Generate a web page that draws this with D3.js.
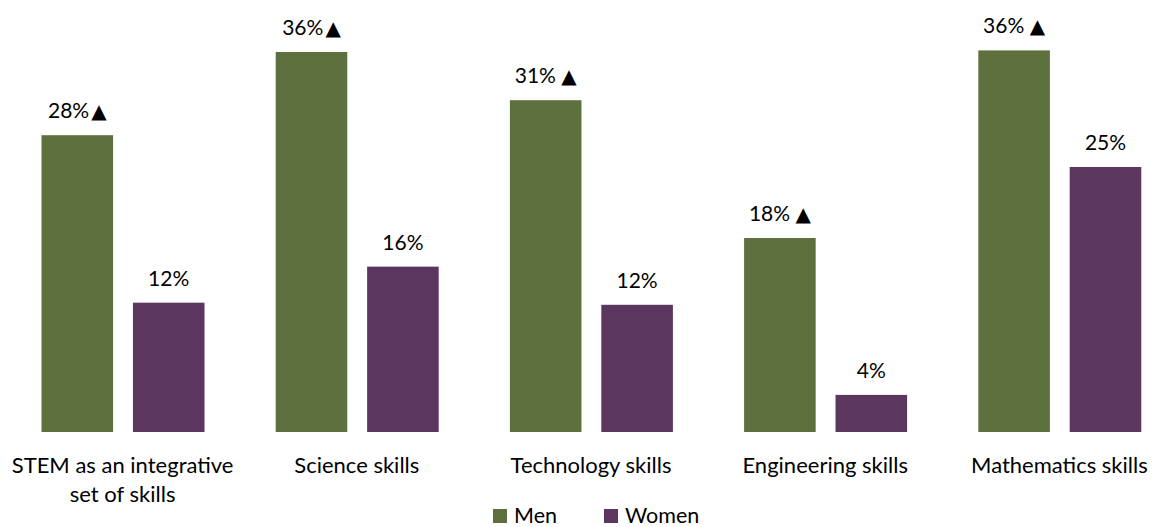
<!DOCTYPE html>
<html><head><meta charset="utf-8">
<script src="https://cdn.jsdelivr.net/npm/d3@7"></script>
<style>body{margin:0;background:#fff}svg{display:block}text{font-family:Lato,"Open Sans",sans-serif;fill:#000}</style>
</head><body><svg id="c" width="1158" height="527"></svg>
<script>
const categories = ["STEM as an integrative set of skills","Science skills","Technology skills","Engineering skills","Mathematics skills"];
const categoryLines = [["STEM as an integrative","set of skills"],["Science skills"],["Technology skills"],["Engineering skills"],["Mathematics skills"]];
const series = ["Men","Women"];
const men = [28.0, 35.85, 31.3, 18.3, 36.0];
const women = [12.2, 15.6, 12.0, 3.5, 25.0];
const menSignificant = [true, true, true, true, true];
const markerSpaced = [false, false, true, true, true];
const colors = {Men:"#5F703F", Women:"#5B365E"};

const svg = d3.select("#c");
const data = categories.map((c,i)=>({cat:c, lines:categoryLines[i], vals:[{s:"Men",v:men[i],sig:menSignificant[i],sp:markerSpaced[i]},{s:"Women",v:women[i],sig:false}]}));

const x0 = d3.scaleBand().domain(categories).range([5.5,1176.5]).padding(0);
const x1 = d3.scaleBand().domain(series).range([36,199]).paddingInner(0.217).paddingOuter(0);
const y = d3.scaleLinear().domain([0,40]).range([432,8]);

const g = svg.selectAll("g.grp").data(data).join("g").attr("class","grp")
  .attr("transform",d=>`translate(${x0(d.cat)},0)`);

g.selectAll("rect").data(d=>d.vals).join("rect")
  .attr("x",d=>x1(d.s)).attr("width",x1.bandwidth())
  .attr("y",d=>y(d.v)).attr("height",d=>y(0)-y(d.v))
  .attr("fill",d=>colors[d.s]);

g.selectAll("text.val").data(d=>d.vals).join("text").attr("class","val")
  .attr("x",d=>x1(d.s)+x1.bandwidth()/2)
  .attr("y",d=>y(d.v)-17)
  .attr("text-anchor","middle").attr("font-size",21)
  .each(function(d){
    const t = d3.select(this);
    t.append("tspan").text(Math.round(d.v)+"%"+(d.sig&&d.sp?" ":""));
    if(d.sig) t.append("tspan").attr("font-family","DejaVu Sans").attr("font-size",20).attr("dx",d.sp?0:2).text("▲");
  });

g.each(function(d){
  const t = d3.select(this).append("text").attr("text-anchor","middle").attr("font-size",22)
    .attr("x",x0.bandwidth()/2).attr("y",473);
  d.lines.forEach((l,i)=>t.append("tspan").attr("x",x0.bandwidth()/2).attr("dy",i?28.5:0).text(l));
});

const leg = svg.append("g");
const legX = {Men:493, Women:604};
series.forEach(s=>{
  leg.append("rect").attr("x",legX[s]).attr("y",509).attr("width",14).attr("height",14).attr("fill",colors[s]);
  leg.append("text").attr("x",legX[s]+21).attr("y",523).attr("font-size",21.5).text(s);
});
</script></body></html>
